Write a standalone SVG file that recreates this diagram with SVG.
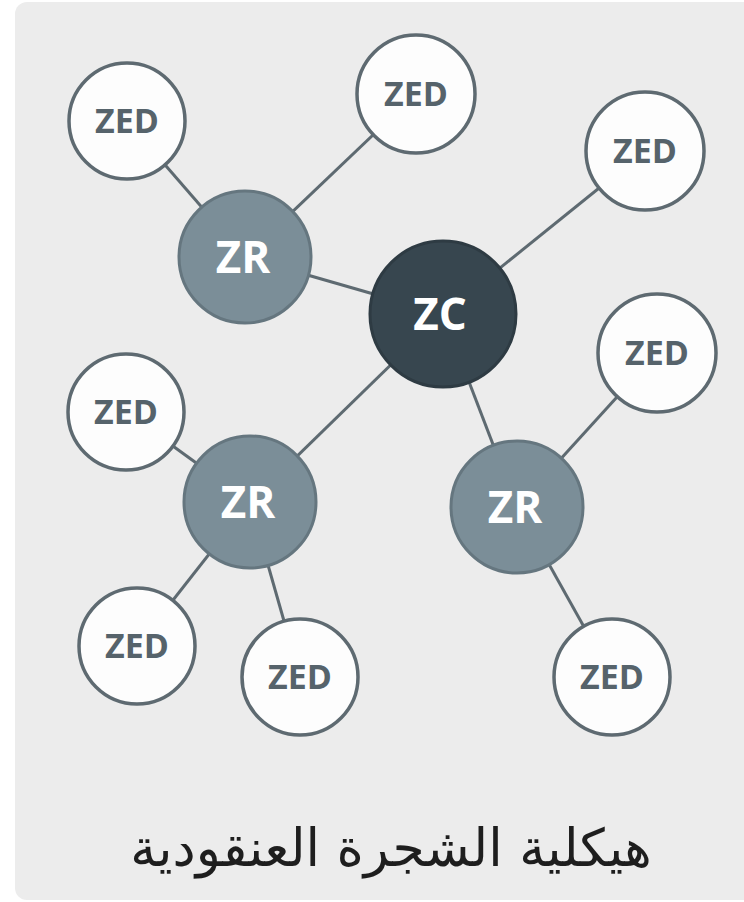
<svg xmlns="http://www.w3.org/2000/svg" width="744" height="902" viewBox="0 0 744 902">
<style>
.edge{stroke:#5e6a71;stroke-width:3;fill:none}
.zed circle{fill:#fdfdfd;stroke:#5e6a71;stroke-width:3.5}
.zed text{fill:#56636b;font-family:"Open Sans","DejaVu Sans",sans-serif;font-weight:bold;font-size:34px;text-anchor:middle}
.zr circle{fill:#7b8e98;stroke:#65767f;stroke-width:3}
.zr text,.zc text{fill:#ffffff;font-family:"Open Sans","DejaVu Sans",sans-serif;font-weight:bold;font-size:44px;text-anchor:middle}
.zc circle{fill:#37464f;stroke:#2e3b43;stroke-width:3}
</style>
<rect width="744" height="902" fill="#ffffff"/>
<rect x="15" y="2" width="760" height="898" rx="12" fill="#ececec"/>
<g id="connectors">
<line class="edge" x1="127" y1="121" x2="245" y2="257"/>
<line class="edge" x1="416" y1="94" x2="245" y2="257"/>
<line class="edge" x1="245" y1="257" x2="443" y2="314"/>
<line class="edge" x1="645" y1="151" x2="443" y2="314"/>
<line class="edge" x1="443" y1="314" x2="250" y2="502"/>
<line class="edge" x1="443" y1="314" x2="517" y2="507"/>
<line class="edge" x1="657" y1="353" x2="517" y2="507"/>
<line class="edge" x1="517" y1="507" x2="612" y2="677"/>
<line class="edge" x1="126" y1="412" x2="250" y2="502"/>
<line class="edge" x1="250" y1="502" x2="137" y2="646"/>
<line class="edge" x1="250" y1="502" x2="300" y2="677"/>
</g>
<g id="zc" class="zc"><circle cx="443" cy="314" r="73"/><text x="440" y="330">ZC</text></g>
<g id="zr1" class="zr"><circle cx="245" cy="257" r="66"/><text x="243" y="273">ZR</text></g>
<g id="zr2" class="zr"><circle cx="250" cy="502" r="66"/><text x="248" y="518">ZR</text></g>
<g id="zr3" class="zr"><circle cx="517" cy="507" r="66"/><text x="515" y="523">ZR</text></g>
<g id="zed1" class="zed"><circle cx="127" cy="121" r="58"/><text x="127" y="133">ZED</text></g>
<g id="zed2" class="zed"><circle cx="416" cy="94" r="59"/><text x="416" y="106">ZED</text></g>
<g id="zed3" class="zed"><circle cx="645" cy="151" r="59"/><text x="645" y="163">ZED</text></g>
<g id="zed4" class="zed"><circle cx="657" cy="353" r="59"/><text x="657" y="365">ZED</text></g>
<g id="zed5" class="zed"><circle cx="126" cy="412" r="58"/><text x="126" y="424">ZED</text></g>
<g id="zed6" class="zed"><circle cx="137" cy="646" r="58"/><text x="137" y="658">ZED</text></g>
<g id="zed7" class="zed"><circle cx="300" cy="677" r="58"/><text x="300" y="689">ZED</text></g>
<g id="zed8" class="zed"><circle cx="612" cy="677" r="58"/><text x="612" y="689">ZED</text></g>
<text x="391" y="866" font-family="'DejaVu Sans',sans-serif" font-size="52" fill="#1e1e1e" text-anchor="middle" direction="rtl">هيكلية الشجرة العنقودية</text>
</svg>
